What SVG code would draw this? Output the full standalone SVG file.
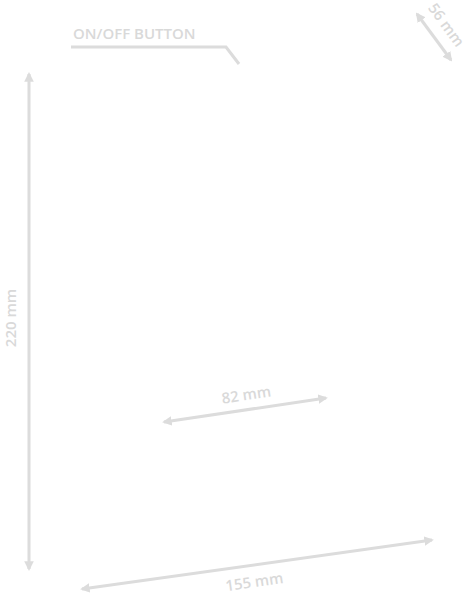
<svg xmlns="http://www.w3.org/2000/svg" width="470" height="601" viewBox="0 0 470 601">
<style>
.dim{stroke:#dcdcdc;stroke-width:3;fill:none}
.lbl{font-family:"Open Sans",sans-serif;font-weight:600;font-size:15px;fill:#d9d9d9}
</style>
<defs>
<marker id="ah" viewBox="0 0 10 10" refX="8" refY="5" markerWidth="3.2" markerHeight="3.2" orient="auto-start-reverse" markerUnits="strokeWidth">
<path d="M0,0 L10,5 L0,10 Z" fill="#dcdcdc"/>
</marker>
</defs>
<rect width="470" height="601" fill="#ffffff"/>
<g id="connectors">
<line class="dim" x1="29" y1="74" x2="29" y2="569" marker-start="url(#ah)" marker-end="url(#ah)"/>
<line class="dim" x1="417" y1="14" x2="451" y2="60" marker-start="url(#ah)" marker-end="url(#ah)"/>
<line class="dim" x1="164" y1="422" x2="326" y2="398" marker-start="url(#ah)" marker-end="url(#ah)"/>
<line class="dim" x1="82" y1="589" x2="432" y2="540" marker-start="url(#ah)" marker-end="url(#ah)"/>
<polyline class="dim" points="71,47 226,47 239,64"/>
</g>
<g id="label-onoff"><text class="lbl" x="73" y="39">ON/OFF BUTTON</text></g>
<g id="label-220"><text class="lbl" text-anchor="middle" transform="translate(16,318) rotate(-90)">220 mm</text></g>
<g id="label-56"><text class="lbl" text-anchor="middle" transform="translate(442,28) rotate(54)">56 mm</text></g>
<g id="label-82"><text class="lbl" text-anchor="middle" transform="translate(247,400) rotate(-8.5)">82 mm</text></g>
<g id="label-155"><text class="lbl" text-anchor="middle" transform="translate(255,587) rotate(-8.2)">155 mm</text></g>
</svg>
